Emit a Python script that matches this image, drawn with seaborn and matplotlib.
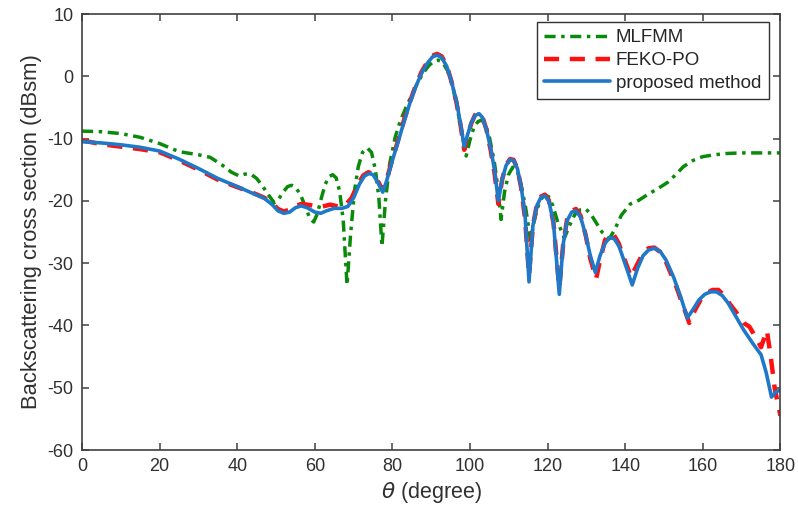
import numpy as np
import pandas as pd
import matplotlib
matplotlib.use("Agg")
import matplotlib.pyplot as plt
import seaborn as sns

# values (theta in degree, RCS in dBsm)
theta_mlfmm = [0, 5, 10, 15, 20, 25, 30, 33, 36, 38.5, 40.5, 42, 43.5, 45, 46.5, 48, 49.5, 50.5, 51.8,
               53, 54, 55, 56.3, 57.6, 58.7, 59.7, 60.7, 61.7, 62.7, 63.7, 64.6, 65.5, 66.4, 67.3, 68.3,
               69.2, 70.2, 71.2, 72.3, 73.5, 74.6, 75.6, 76.5, 77.3, 78.2, 79.3, 80.7, 82, 83.5, 85,
               86.5, 88, 89.5, 90.7, 91.8, 93, 94.2, 95.5, 96.6, 97.8, 99, 100, 101, 102, 103, 104, 105,
               106.2, 107.2, 108, 108.9, 109.9, 111, 112, 113, 114.3, 115.6, 116.6, 117.8, 119, 120.2,
               121.3, 122.6, 124.3, 125.6, 127, 128.5, 129.8, 131, 132.5, 134, 135.9, 137.3, 139, 141.3,
               143.5, 146, 148.5, 151, 153, 155, 157.5, 160, 163, 166, 170, 175, 180]
rcs_mlfmm = [-8.8, -8.9, -9.2, -9.8, -10.8, -12.1, -12.6, -13.0, -14.2, -15.4, -16.0, -15.7, -15.7,
             -16.4, -17.6, -19.0, -20.3, -19.9, -18.6, -17.7, -17.5, -17.8, -19.0, -21.0, -22.8, -23.4,
             -22.0, -19.5, -17.3, -16.1, -15.8, -16.3, -18.5, -23.0, -33.5, -25.5, -18.5, -14.5, -12.2,
             -11.5, -12.2, -15.0, -19.5, -27.3, -20.0, -14.0, -9.8, -7.2, -5.0, -3.0, -1.0, 0.6, 1.8,
             2.4, 2.6, 2.2, 0.9, -1.5, -4.8, -8.8, -12.8, -10.2, -8.2, -7.3, -7.0, -7.8, -9.8, -13.5,
             -18.0, -23.0, -18.5, -15.8, -14.6, -14.9, -17.0, -21.0, -26.3, -23.0, -20.3, -19.1, -19.3,
             -20.7, -23.4, -26.0, -24.0, -22.2, -21.4, -21.3, -22.0, -23.5, -25.0, -26.1, -24.6, -22.3,
             -20.5, -19.9, -18.9, -18.0, -17.0, -15.8, -14.5, -13.5, -12.9, -12.6, -12.4, -12.3, -12.3,
             -12.3]

theta_feko = [0, 5, 10, 15, 20, 25, 30, 35, 40, 44, 47, 49, 50.5, 52, 53.5, 55, 56.5, 58, 60, 62, 64,
              66, 68, 69.5, 71, 72.5, 73.8, 75, 76.3, 77.5, 78.5, 80, 81.5, 83, 84.5, 86, 87.5, 89, 90.3,
              91.5, 92.7, 94, 95.2, 96.5, 97.6, 98.5, 99.4, 100.3, 101.3, 102.3, 103.2, 104.2, 105.3,
              106.3, 107.3, 108.3, 109.3, 110.3, 111.2, 112.2, 113.2, 114.2, 115.2, 116.2, 117.2, 118.3,
              119.3, 120.3, 121.5, 123, 124, 125, 126.2, 127.3, 128.5, 129.8, 131, 132.5, 133.7, 134.8,
              135.8, 137, 138.3, 139.8, 141.5, 143, 144.5, 146, 147.5, 149, 150.5, 153, 155, 156.5, 158,
              159.5, 161, 162.5, 164, 165.5, 167, 168.5, 170.5, 172, 174, 175, 176.5, 177.5, 178.5,
              179.3, 180]
rcs_feko = [-10.3, -10.9, -11.3, -11.7, -12.2, -13.5, -15.0, -16.6, -17.8, -18.7, -19.5, -20.4, -21.3,
            -21.7, -21.4, -20.8, -20.5, -20.6, -20.8, -20.9, -20.6, -20.9, -20.6, -19.5, -17.5, -15.9,
            -15.4, -15.7, -16.9, -18.3, -16.6, -13.3, -10.2, -7.0, -4.1, -1.5, 0.7, 2.3, 3.3, 3.6, 3.2,
            1.7, -0.8, -4.2, -8.0, -11.8, -9.5, -7.6, -6.2, -5.9, -6.5, -8.5, -11.8, -15.5, -20.5,
            -16.5, -14.2, -13.3, -13.4, -14.8, -18.0, -23.0, -32.0, -24.0, -20.7, -19.3, -19.0, -19.9,
            -23.5, -34.0, -27.0, -23.0, -21.6, -21.3, -22.4, -25.5, -29.3, -32.5, -29.0, -26.3, -25.3,
            -25.4, -26.8, -29.4, -32.2, -30.3, -28.5, -27.6, -27.5, -28.2, -29.8, -33.5, -37.0, -39.6,
            -37.5, -35.8, -34.8, -34.3, -34.3, -35.2, -36.6, -37.8, -39.6, -40.2, -42.3, -43.5, -40.8,
            -45.0, -50.0, -52.5, -54.5]

theta_prop = [0, 5, 10, 15, 20, 25, 30, 35, 40, 44, 47, 49, 50.5, 52, 53.5, 55, 56.5, 58, 60, 61.5, 63,
              65, 67, 68.5, 70, 71.5, 72.8, 74, 75, 76.2, 77.5, 78.5, 80, 81.5, 83, 84.5, 86, 87.5, 89,
              90.3, 91.5, 92.7, 94, 95.2, 96.5, 97.6, 98.5, 99.4, 100.3, 101.3, 102.3, 103.2, 104.2,
              105.3, 106.3, 107.3, 108.3, 109.3, 110.3, 111.2, 112.2, 113.2, 114.2, 115.2, 116.2,
              117.2, 118.3, 119.3, 120.3, 121.5, 123, 124, 125, 126.2, 127.3, 128.5, 129.8, 131, 132.3,
              133.5, 134.8, 136, 137.2, 138.4, 139.8, 141.8, 143.2, 144.6, 146, 147.5, 149, 150.5,
              152.5, 154.5, 156, 157.5, 159, 160.5, 162, 163.5, 165, 166.5, 168, 170.5, 173, 175,
              176.3, 177.7, 179, 180]
rcs_prop = [-10.5, -10.7, -11.0, -11.4, -12.0, -13.3, -14.8, -16.4, -17.7, -18.8, -19.6, -20.6, -21.6,
            -22.0, -21.8, -21.1, -20.8, -21.1, -21.8, -22.0, -21.6, -21.2, -21.2, -20.9, -19.5, -17.3,
            -16.0, -15.6, -15.8, -17.0, -18.6, -16.8, -13.5, -10.4, -7.3, -4.3, -1.7, 0.5, 2.1, 3.1,
            3.4, 3.0, 1.6, -0.8, -4.0, -7.8, -11.3, -9.3, -7.5, -6.3, -6.0, -6.6, -8.5, -11.5, -15.0,
            -20.0, -16.5, -14.3, -13.4, -13.5, -14.8, -17.8, -22.5, -33.0, -24.0, -20.8, -19.4, -19.2,
            -20.0, -23.5, -35.0, -27.0, -23.2, -21.8, -21.6, -22.6, -25.5, -28.8, -31.5, -28.8, -26.8,
            -25.9, -26.1, -27.3, -29.8, -33.5, -30.8, -28.8, -27.9, -27.6, -28.1, -29.5, -32.3, -35.8,
            -38.8, -37.4, -35.9, -35.0, -34.6, -34.6, -35.2, -36.4, -38.0, -40.7, -43.0, -44.7, -47.5,
            -51.5, -50.6, -50.4]

x_ticks = list(range(0, 181, 20))
y_ticks = list(range(-60, 11, 10))

sns.set_style("ticks", {"xtick.direction": "in", "ytick.direction": "in"})
plt.rcParams["font.family"] = ["Liberation Sans", "DejaVu Sans"]
plt.rcParams["mathtext.fontset"] = "dejavusans"
plt.rcParams["axes.unicode_minus"] = False

axis_gray = "#404040"

fig = plt.figure(figsize=(7.98, 5.15), dpi=100)
ax = fig.add_axes([0.1028, 0.1262, 0.8752, 0.8466])

# MLFMM first, proposed method drawn on top
sns.lineplot(x=theta_mlfmm, y=rcs_mlfmm, ax=ax, color="#0a8a0a", linewidth=2.5,
             label="MLFMM", sort=False)
ax.lines[-1].set_dashes((3.2, 1.6, 1.0, 1.6))
sns.lineplot(x=theta_feko, y=rcs_feko, ax=ax, color="#ff1010", linewidth=3.2,
             label="FEKO-PO", sort=False)
ax.lines[-1].set_dashes((3.4, 2.4))
sns.lineplot(x=theta_prop, y=rcs_prop, ax=ax, color="#1f78c8", linewidth=2.6,
             label="proposed method", sort=False)
for ln in ax.lines:
    ln.set_solid_joinstyle("round")
    ln.set_dash_joinstyle("round")

ax.set_xlim(0, 180)
ax.set_ylim(-60, 10)
ax.set_xticks(x_ticks)
ax.set_yticks(y_ticks)
ax.tick_params(axis="both", which="both", direction="in", length=5, width=1.1,
               colors=axis_gray, labelsize=13, labelcolor="#303030", top=True, right=True,
               pad=6)
for side in ax.spines.values():
    side.set_color(axis_gray)
    side.set_linewidth(1.2)

ax.set_xlabel(r"$\theta$ (degree)", fontsize=15.5, color="#303030", labelpad=3)
ax.set_ylabel("Backscattering cross section (dBsm)", fontsize=15.8, color="#303030", labelpad=4)

leg = ax.legend(loc="upper right", bbox_to_anchor=(0.983, 0.982), borderaxespad=0,
                fontsize=13.5, handlelength=3.5, handletextpad=0.3, labelspacing=0.3,
                borderpad=0.4, fancybox=False, framealpha=1, edgecolor="#303030")
leg.get_frame().set_linewidth(1.0)

fig.savefig("out.png", dpi=100)
